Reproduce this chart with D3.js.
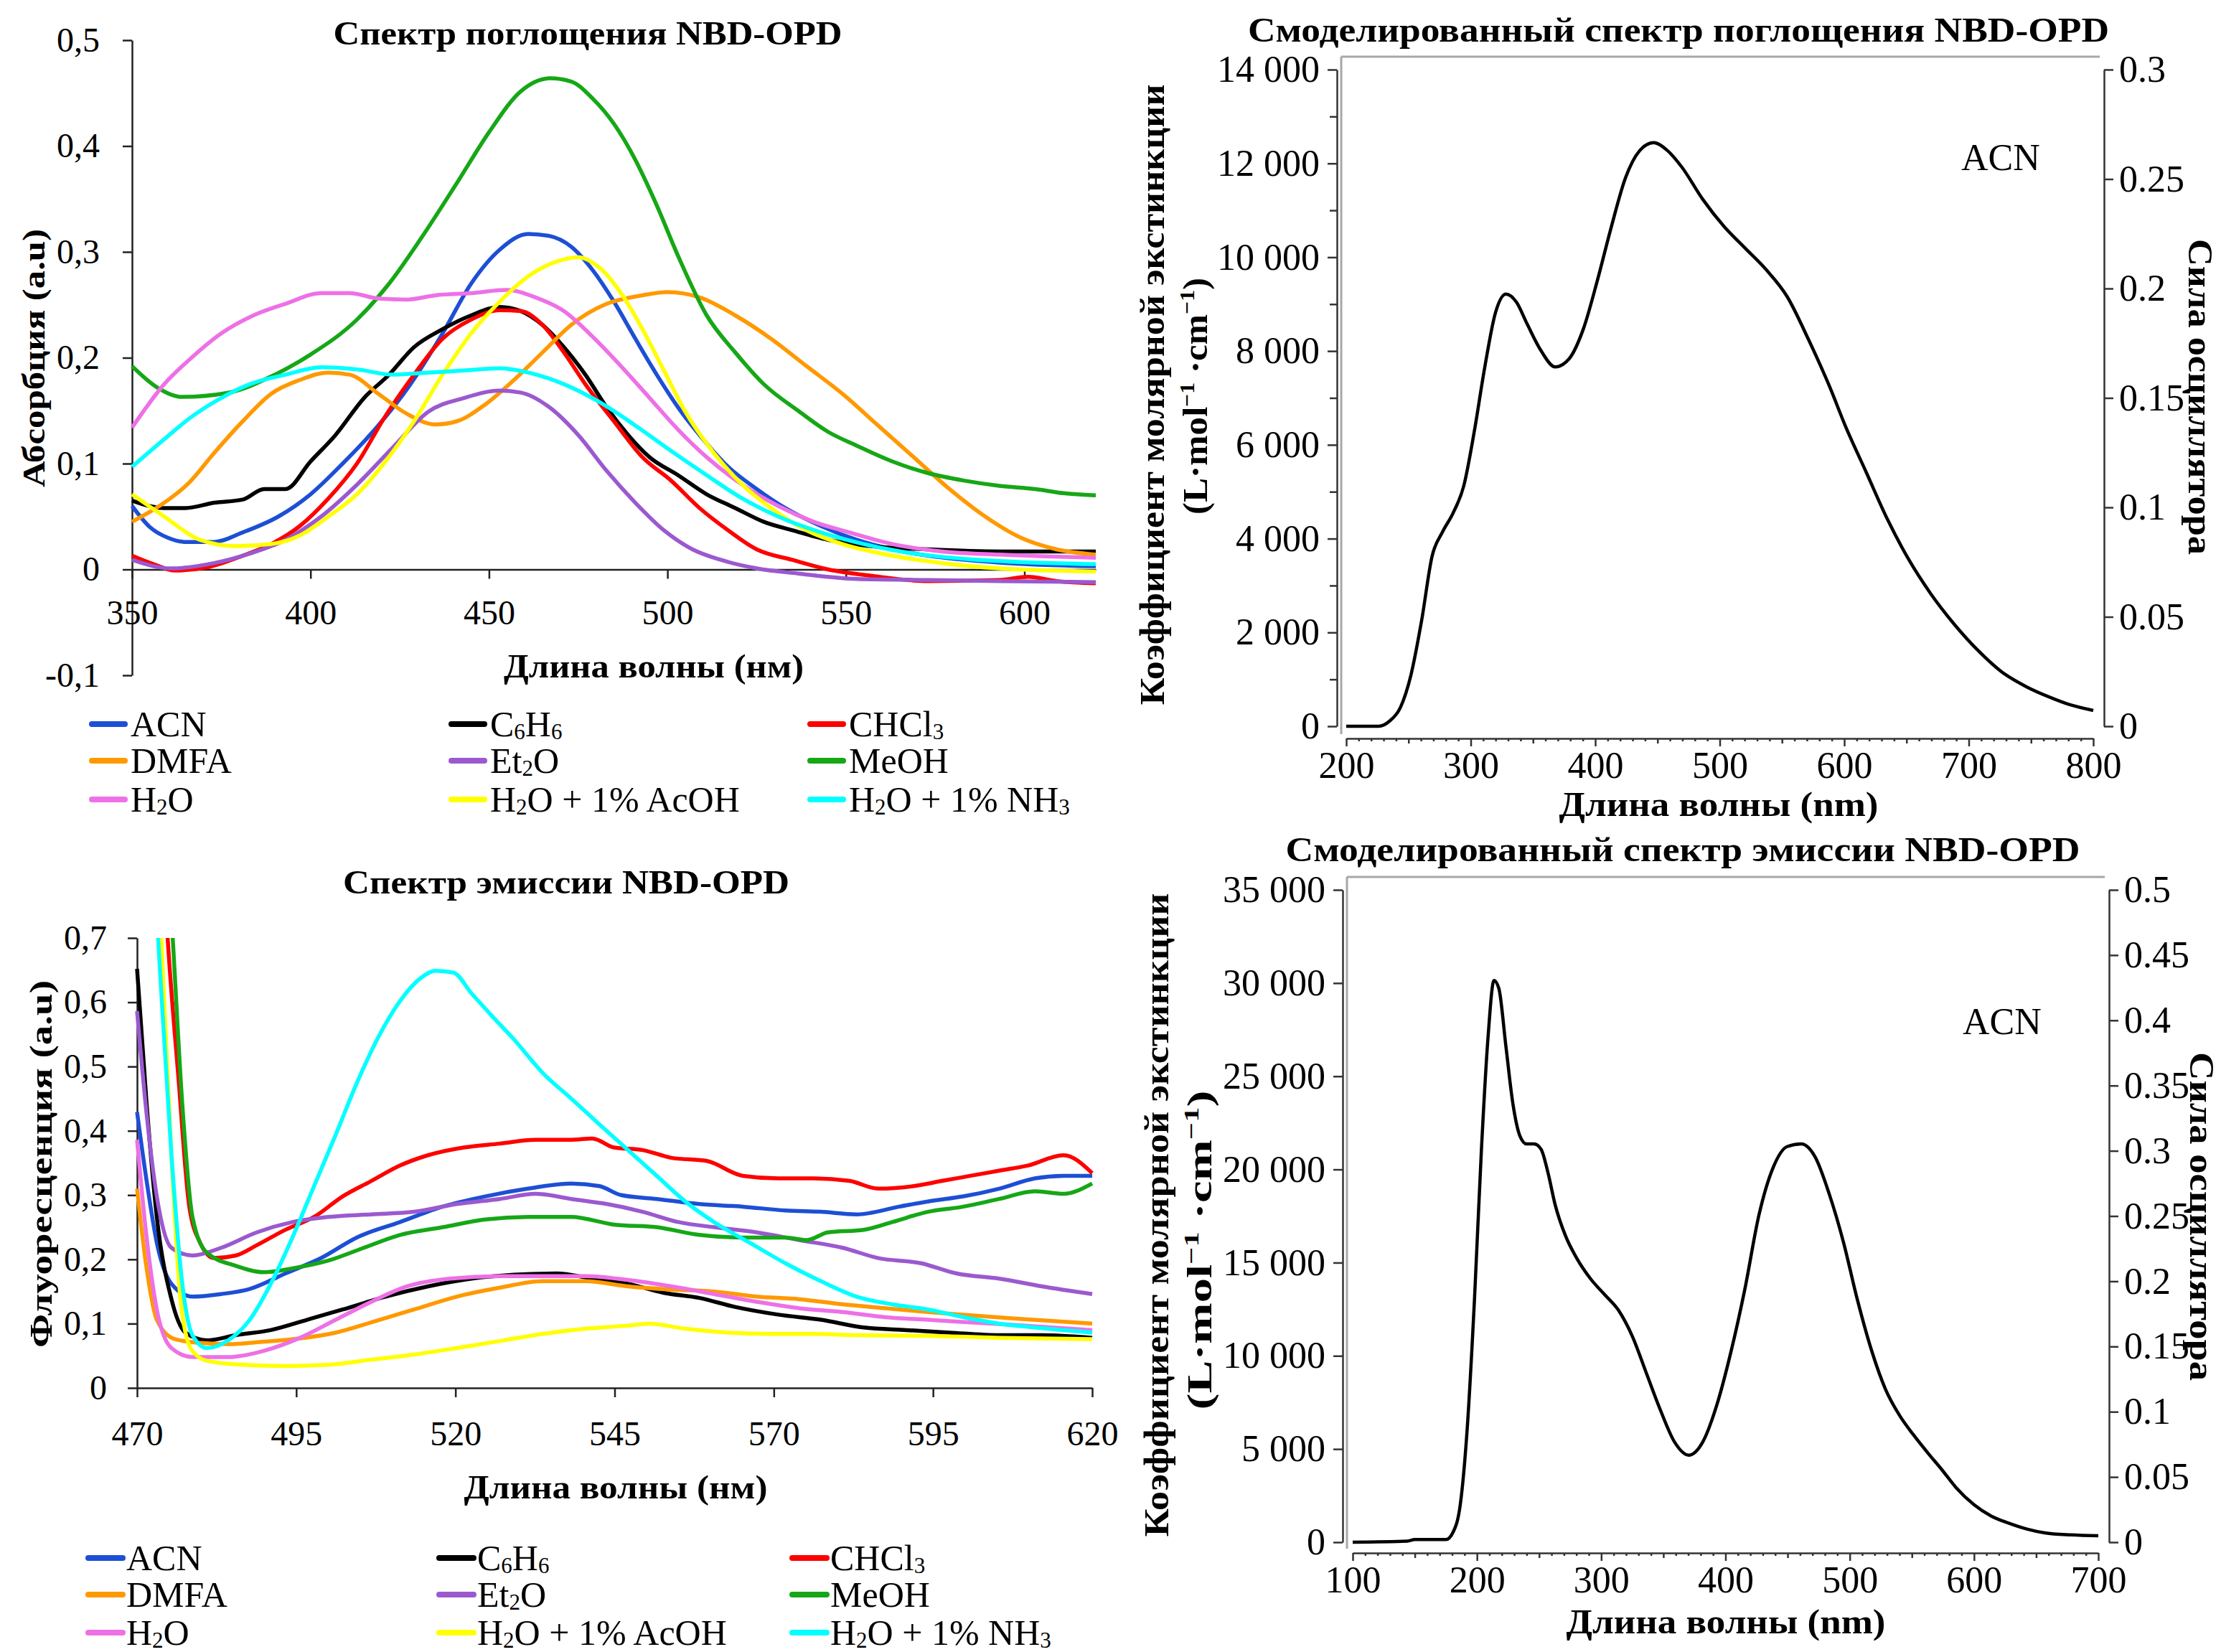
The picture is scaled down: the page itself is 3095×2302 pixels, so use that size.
<!DOCTYPE html>
<html>
<head>
<meta charset="utf-8">
<script src="https://cdn.jsdelivr.net/npm/d3@7"></script>
<style>
  html, body { margin: 0; padding: 0; background: #fff; }
</style>
</head>
<body>
<div id="chart"></div>
<script>
// ---- data: absorption spectra (wavelength nm, absorbance a.u.)
var absACN   = [[350,0.06],[355,0.04],[360,0.03],[365,0.026],[373,0.026],[381,0.035],[391,0.05],[400,0.071],[409,0.10],[419,0.136],[428,0.175],[437,0.223],[445,0.27],[453,0.302],[461,0.317],[467,0.315],[473,0.305],[479,0.283],[485,0.253],[491,0.218],[497,0.184],[503,0.153],[509,0.127],[517,0.097],[525,0.076],[533,0.058],[543,0.041],[553,0.028],[563,0.019],[573,0.013],[593,0.0065],[620,0.003]];
var absC6H6  = [[350,0.065],[359,0.058],[365,0.058],[373,0.063],[381,0.066],[387,0.076],[393,0.076],[400,0.102],[407,0.127],[415,0.162],[422,0.184],[429,0.21],[437,0.227],[445,0.24],[453,0.248],[459,0.244],[465,0.231],[471,0.21],[477,0.184],[483,0.153],[489,0.127],[495,0.106],[503,0.089],[511,0.071],[519,0.058],[527,0.045],[535,0.037],[545,0.028],[557,0.022],[573,0.019],[593,0.017],[620,0.017]];
var absCHCl3 = [[350,0.013],[356,0.005],[362,-0.001],[371,0.002],[381,0.013],[389,0.024],[397,0.041],[405,0.067],[413,0.10],[421,0.145],[429,0.184],[437,0.218],[445,0.236],[453,0.245],[459,0.244],[465,0.231],[471,0.205],[477,0.175],[485,0.14],[493,0.106],[501,0.084],[509,0.058],[517,0.037],[525,0.019],[535,0.009],[545,0],[557,-0.006],[573,-0.011],[593,-0.010],[601,-0.007],[609,-0.011],[620,-0.013]];
var absDMFA  = [[350,0.045],[359,0.063],[366,0.082],[373,0.11],[381,0.14],[389,0.166],[397,0.179],[405,0.186],[411,0.184],[419,0.166],[427,0.147],[435,0.137],[441,0.14],[449,0.156],[457,0.179],[465,0.205],[473,0.231],[483,0.251],[493,0.259],[500,0.262],[509,0.257],[519,0.24],[529,0.218],[539,0.192],[549,0.166],[559,0.136],[569,0.106],[579,0.076],[589,0.05],[599,0.03],[609,0.019],[620,0.014]];
var absEt2O  = [[350,0.009],[361,0.001],[373,0.006],[383,0.015],[393,0.028],[403,0.05],[413,0.08],[423,0.115],[433,0.149],[443,0.162],[453,0.169],[459,0.167],[467,0.153],[475,0.127],[483,0.093],[491,0.063],[499,0.037],[507,0.019],[515,0.009],[525,0.001],[537,-0.004],[553,-0.009],[573,-0.010],[593,-0.011],[620,-0.012]];
var absMeOH  = [[350,0.192],[357,0.172],[364,0.163],[377,0.167],[390,0.184],[400,0.203],[413,0.236],[422,0.27],[431,0.313],[441,0.365],[450,0.413],[459,0.452],[467,0.464],[473,0.461],[479,0.445],[485,0.421],[491,0.387],[497,0.344],[503,0.296],[511,0.24],[519,0.205],[527,0.175],[537,0.149],[545,0.13],[553,0.117],[563,0.102],[573,0.091],[583,0.084],[593,0.079],[603,0.076],[611,0.072],[620,0.070]];
var absH2O   = [[350,0.134],[359,0.175],[367,0.201],[375,0.223],[384,0.24],[393,0.251],[403,0.261],[411,0.261],[419,0.256],[427,0.255],[435,0.259],[445,0.261],[455,0.264],[463,0.257],[471,0.244],[479,0.22],[487,0.192],[495,0.162],[503,0.132],[511,0.106],[521,0.08],[531,0.06],[541,0.045],[551,0.035],[563,0.024],[577,0.017],[593,0.014],[620,0.011]];
var absAcOH  = [[350,0.071],[359,0.05],[369,0.028],[379,0.022],[389,0.024],[397,0.032],[405,0.05],[413,0.071],[421,0.102],[429,0.14],[437,0.184],[445,0.223],[453,0.253],[461,0.277],[469,0.291],[475,0.295],[481,0.285],[487,0.261],[493,0.227],[499,0.188],[505,0.149],[513,0.11],[521,0.08],[529,0.058],[539,0.037],[549,0.024],[563,0.013],[577,0.006],[593,0.001],[620,-0.002]];
var absNH3   = [[350,0.097],[359,0.123],[367,0.145],[375,0.162],[383,0.175],[393,0.184],[403,0.191],[413,0.189],[423,0.184],[433,0.186],[443,0.188],[453,0.19],[461,0.186],[471,0.175],[481,0.158],[491,0.136],[501,0.112],[511,0.089],[521,0.067],[531,0.05],[543,0.035],[555,0.024],[569,0.015],[585,0.0095],[603,0.0065],[620,0.005]];

// ---- data: emission spectra (wavelength nm, fluorescence a.u.)
var emACN   = [[470,0.429],[471.5,0.322],[473.1,0.226],[475.4,0.162],[478.7,0.142],[483.2,0.146],[487.7,0.154],[493.3,0.178],[498.9,0.202],[504.5,0.234],[511.3,0.258],[518,0.282],[524.7,0.298],[531.4,0.31],[538.2,0.318],[542.6,0.314],[546,0.3],[551.6,0.294],[558.3,0.286],[565.1,0.282],[571.8,0.276],[577.4,0.274],[583,0.27],[589.7,0.282],[594.2,0.29],[599.8,0.298],[605.4,0.31],[611,0.326],[615.5,0.33],[620,0.33]];
var emC6H6  = [[470,0.652],[471.5,0.442],[473.1,0.266],[475.4,0.138],[477.6,0.086],[481,0.074],[485.5,0.082],[491,0.09],[496.7,0.106],[502.3,0.122],[509,0.142],[515.7,0.158],[522.5,0.17],[529.2,0.176],[535.9,0.178],[541.5,0.17],[547.1,0.162],[552.7,0.148],[558.3,0.14],[563.9,0.126],[570.7,0.114],[577.4,0.106],[584.1,0.094],[590.8,0.09],[597.6,0.086],[605.4,0.082],[612.1,0.082],[620,0.078]];
var emCHCl3 = [[474.2,0.8],[474.8,0.7],[476.5,0.482],[478.2,0.282],[479.9,0.226],[482.1,0.202],[485.5,0.206],[488.8,0.222],[493.3,0.246],[497.8,0.266],[502.3,0.298],[506.8,0.322],[511.3,0.346],[515.7,0.362],[521.3,0.374],[526.9,0.38],[532.6,0.386],[538.2,0.386],[541.5,0.388],[544.9,0.374],[549.4,0.37],[553.9,0.358],[559.5,0.353],[565.1,0.33],[570.7,0.326],[576.3,0.326],[581.9,0.322],[586.4,0.31],[592,0.314],[596.4,0.322],[600.9,0.33],[605.4,0.338],[609.9,0.346],[615.5,0.362],[620,0.334]];
var emDMFA  = [[470,0.31],[471.5,0.186],[473.1,0.106],[475.9,0.076],[479.9,0.07],[484.3,0.068],[490,0.072],[495.6,0.077],[501.2,0.086],[506.8,0.102],[513.5,0.122],[520.2,0.142],[527,0.156],[533.7,0.166],[540.4,0.166],[547.1,0.158],[553.9,0.153],[560.6,0.15],[567.3,0.142],[574,0.138],[580.8,0.13],[587.5,0.124],[594.2,0.118],[600.9,0.113],[607.7,0.108],[620,0.1]];
var emEt2O  = [[470,0.586],[471.5,0.426],[473.1,0.298],[475.4,0.218],[478.7,0.206],[483.2,0.218],[488.8,0.242],[494.4,0.258],[500,0.266],[506.8,0.27],[513.5,0.274],[520.2,0.286],[527,0.294],[532.6,0.302],[538.2,0.294],[543.8,0.286],[549.4,0.274],[555,0.258],[560.6,0.25],[567.3,0.242],[574,0.23],[580.8,0.218],[586.4,0.202],[593.1,0.194],[598.7,0.178],[605.4,0.17],[612.1,0.158],[620,0.146]];
var emMeOH  = [[475,0.8],[475.6,0.7],[477.1,0.442],[478.7,0.266],[481,0.21],[485.5,0.19],[490,0.18],[494.4,0.186],[500,0.198],[505.6,0.218],[511.3,0.238],[518,0.25],[524.7,0.262],[531.4,0.266],[538.2,0.266],[544.9,0.254],[551.6,0.25],[558.3,0.238],[565.1,0.234],[571.8,0.234],[575.2,0.23],[578.5,0.242],[584.1,0.246],[588.6,0.258],[594.2,0.274],[599.8,0.282],[605.4,0.294],[611,0.306],[615.5,0.302],[620,0.318]];
var emH2O   = [[470,0.386],[471.5,0.234],[473.1,0.122],[475.4,0.062],[478.7,0.048],[484.3,0.048],[490,0.058],[495.6,0.078],[501.2,0.106],[506.8,0.134],[512.4,0.158],[519.1,0.17],[527,0.174],[533.7,0.174],[540.4,0.174],[547.1,0.168],[553.9,0.158],[560.6,0.146],[567.3,0.134],[574,0.124],[580.8,0.118],[587.5,0.11],[594.2,0.106],[600.9,0.102],[607.7,0.098],[620,0.09]];
var emAcOH  = [[473.2,0.8],[473.8,0.7],[475.4,0.36],[476.8,0.14],[478.5,0.06],[481,0.042],[486.6,0.036],[493.3,0.034],[500,0.036],[506.8,0.044],[513.5,0.052],[520.2,0.062],[527,0.073],[533.7,0.084],[540.4,0.092],[547.1,0.097],[550.5,0.1],[556.1,0.092],[562.8,0.086],[569.5,0.084],[576.3,0.084],[583,0.082],[594.2,0.081],[605.4,0.078],[620,0.076]];
var emNH3   = [[472.7,0.8],[473.3,0.7],[475.4,0.362],[477.1,0.162],[478.7,0.082],[481,0.062],[484.3,0.074],[487.7,0.106],[491,0.162],[494.4,0.234],[497.8,0.314],[501.2,0.394],[504.5,0.474],[507.9,0.546],[511.3,0.602],[514.6,0.638],[516.9,0.649],[519.7,0.646],[522.5,0.614],[525.8,0.578],[529.2,0.542],[533.7,0.49],[538.2,0.45],[542.6,0.41],[547.1,0.37],[551.6,0.33],[556.1,0.29],[560.6,0.258],[566.2,0.226],[571.8,0.194],[577.4,0.166],[583,0.142],[588.6,0.13],[594.2,0.122],[599.8,0.11],[605.4,0.1],[611,0.094],[620,0.086]];

// ---- data: simulated spectra (wavelength nm, molar extinction)
var simAbs = [[200,0],[226,0],[235,115],[243.5,400],[252,1095],[260.5,2246],[269,3630],[277.4,4147],[285.9,4550],[294.4,5126],[302.8,6278],[311.3,7660],[319.8,8813],[328.2,9216],[336.7,9043],[345.2,8582],[356.5,8006],[367.8,7660],[379,7834],[390.4,8467],[401.7,9504],[413,10656],[424.3,11693],[435.6,12269],[446.9,12442],[458.2,12269],[469.5,11923],[486.4,11232],[503.4,10656],[520.3,10195],[537.3,9734],[554.2,9158],[571.2,8250],[588.1,7250],[601.7,6350],[617.3,5436],[634.6,4417],[651.9,3550],[669.2,2835],[688.4,2173],[707.6,1611],[726.8,1152],[746,846],[765.2,617],[780.6,464],[800,337]];
var simEm  = [[100,0],[144,57],[150,140],[175,140],[181,566],[186.5,1981],[192,5943],[198,13018],[203.5,20942],[209,27168],[213.7,30140],[217.6,29715],[223.3,26602],[229,23489],[234.6,21791],[240,21366],[245.9,21366],[251.6,21083],[257.2,19810],[262.9,18112],[271.4,16414],[279.9,15282],[291.2,14150],[302.5,13301],[313.8,12452],[325.1,11037],[336.4,9056],[347.7,7075],[359,5377],[370.4,4670],[381.7,5377],[393,7358],[404.3,10188],[415.6,13584],[426.9,17546],[438.3,20093],[449.6,21225],[460.9,21366],[472.2,20659],[483.5,18678],[494.8,16131],[506.1,13018],[517.5,10300],[528.8,8200],[540.1,6800],[551.4,5750],[562.7,4800],[574,3900],[585.3,2950],[600,2014],[614,1400],[629,1000],[643,700],[657,500],[678,390],[700,347]];

// ---- series names / colours (legend order = drawing order)
var seriesNames  = ["ACN", "C_6H_6", "CHCl_3", "DMFA", "Et_2O", "MeOH", "H_2O", "H_2O + 1% AcOH", "H_2O + 1% NH_3"];
var seriesColors = ["#1d4fd5", "#000000", "#ff0000", "#ff9900", "#9b59cf", "#16a716", "#ee70e6", "#ffff00", "#00ffff"];
var absSeries = [absACN, absC6H6, absCHCl3, absDMFA, absEt2O, absMeOH, absH2O, absAcOH, absNH3];
var emSeries  = [emACN, emC6H6, emCHCl3, emDMFA, emEt2O, emMeOH, emH2O, emAcOH, emNH3];

// ---- tick values
var absYTicks = [-0.1, 0, 0.1, 0.2, 0.3, 0.4, 0.5];
var absXTicks = [350, 400, 450, 500, 550, 600];
var emYTicks  = [0, 0.1, 0.2, 0.3, 0.4, 0.5, 0.6, 0.7];
var emXTicks  = [470, 495, 520, 545, 570, 595, 620];
var simAbsYTicks = d3.range(0, 14001, 2000);
var simAbsYMinor = d3.range(1000, 14000, 2000);
var simAbsRTicks = [0, 0.05, 0.1, 0.15, 0.2, 0.25, 0.3];
var simAbsXTicks = d3.range(200, 801, 100);
var simEmYTicks  = d3.range(0, 35001, 5000);
var simEmRTicks  = [0, 0.05, 0.1, 0.15, 0.2, 0.25, 0.3, 0.35, 0.4, 0.45, 0.5];
var simEmXTicks  = d3.range(100, 701, 100);

var FONT = "'Liberation Serif','Times New Roman',serif";
var W = 3095, H = 2302;

var svg = d3.select("#chart").append("svg")
  .attr("width", W).attr("height", H)
  .attr("viewBox", "0 0 " + W + " " + H);
svg.append("rect").attr("width", W).attr("height", H).attr("fill", "#fff");

var fmtComma = d3.formatLocale({decimal: ",", thousands: " ", grouping: [3], currency: ["", ""], minus: "-"}).format("~g");
var fmtSpace = d3.formatLocale({decimal: ".", thousands: " ", grouping: [3], currency: ["", ""]}).format(",");
var fmtDot = d3.format("~g");

// text with _x subscripts and ^−1 superscripts (shifts given in px)
function rich(t, str, size) {
  var parts = str.split(/(_\d|\^−1)/).filter(function(p) { return p; });
  var shift = 0;
  parts.forEach(function(p) {
    if (p[0] === "_") {
      var d = size * 0.08;
      t.append("tspan").attr("font-size", size * 0.62).attr("dy", d - shift).text(p.slice(1));
      shift = d;
    } else if (p[0] === "^") {
      var u = -size * 0.38;
      t.append("tspan").attr("font-size", size * 0.62).attr("dy", u - shift).text(p.slice(1));
      shift = u;
    } else {
      var s = t.append("tspan").text(p);
      if (shift) s.attr("dy", -shift);
      shift = 0;
    }
  });
}

function label(g, o) {
  var t = g.append("text")
    .attr("font-family", FONT)
    .attr("font-size", o.size)
    .attr("font-weight", o.bold ? "bold" : "normal")
    .attr("text-anchor", o.anchor || "middle")
    .attr("fill", "#000")
    .attr("transform", "translate(" + o.x + "," + o.y + ") rotate(" + (o.rot || 0) + ")");
  rich(t, o.text, o.size);
  if (o.len) t.attr("textLength", o.len).attr("lengthAdjust", "spacingAndGlyphs");
  return t;
}

function styleAxis(g, size, color) {
  g.select(".domain").attr("stroke", color).attr("stroke-width", 2.5);
  g.selectAll(".tick line").attr("stroke", color).attr("stroke-width", 2.5);
  g.selectAll(".tick text").attr("font-family", FONT).attr("font-size", size).attr("fill", "#000");
}

// tick marks only: drop the empty label nodes
function bareTicks(g, color) {
  g.selectAll(".tick text").remove();
  g.select(".domain").remove();
  g.selectAll(".tick line").attr("stroke", color).attr("stroke-width", 2.5);
}

function drawLegend(g, rows, cols, lineLen, textOff) {
  seriesNames.forEach(function(name, i) {
    var r = Math.floor(i / 3), c = i % 3;
    var x0 = cols[c], y0 = rows[r];
    g.append("line")
      .attr("x1", x0 + 4).attr("x2", x0 + lineLen - 4)
      .attr("y1", y0).attr("y2", y0)
      .attr("stroke", seriesColors[i]).attr("stroke-width", 8)
      .attr("stroke-linecap", "round");
    label(g, {x: x0 + textOff, y: y0 + 17, text: name, size: 50, anchor: "start"});
  });
}

// ================= Panel 1: absorption =================
var g1 = svg.append("g");
var x1 = d3.scaleLinear().domain([350, 620]).range([184, 1527]);
var y1 = d3.scaleLinear().domain([-0.1, 0.5]).range([941, 56]);

var line1 = d3.line().curve(d3.curveMonotoneX)
  .x(function(d) { return x1(d[0]); })
  .y(function(d) { return y1(d[1]); });

g1.append("g").attr("transform", "translate(184,0)")
  .call(d3.axisLeft(y1).tickValues(absYTicks).tickSize(13).tickSizeOuter(0).tickPadding(32).tickFormat(fmtComma))
  .call(styleAxis, 48, "#222");
g1.append("g").attr("transform", "translate(0," + y1(0) + ")")
  .call(d3.axisBottom(x1).tickValues(absXTicks).tickSize(13).tickSizeOuter(0).tickPadding(29).tickFormat(d3.format("d")))
  .call(styleAxis, 48, "#222");

absSeries.forEach(function(s, i) {
  g1.append("path").datum(s)
    .attr("fill", "none").attr("stroke", seriesColors[i])
    .attr("stroke-width", 5.5).attr("stroke-linejoin", "round")
    .attr("d", line1);
});

label(g1, {x: 819, y: 62, text: "Спектр поглощения NBD-OPD", size: 46, bold: true, len: 709});
label(g1, {x: 62, y: 499, rot: -90, text: "Абсорбция (а.u)", size: 44, bold: true, len: 360});
label(g1, {x: 911, y: 944, text: "Длина волны (нм)", size: 46, bold: true, len: 418});
drawLegend(g1, [1009, 1060, 1114], [124, 625, 1125], 54, 58);

// ================= Panel 3: emission =================
var g3 = svg.append("g");
var x3 = d3.scaleLinear().domain([470, 620]).range([191, 1522]);
var y3 = d3.scaleLinear().domain([0, 0.7]).range([1934, 1307]);

svg.append("clipPath").attr("id", "clip3")
  .append("rect").attr("x", 180).attr("y", 1307).attr("width", 1360).attr("height", 640);

var line3 = d3.line().curve(d3.curveMonotoneX)
  .x(function(d) { return x3(d[0]); })
  .y(function(d) { return y3(d[1]); });

g3.append("g").attr("transform", "translate(191,0)")
  .call(d3.axisLeft(y3).tickValues(emYTicks).tickSize(13).tickSizeOuter(0).tickPadding(29).tickFormat(fmtComma))
  .call(styleAxis, 48, "#222");
g3.append("g").attr("transform", "translate(0,1934)")
  .call(d3.axisBottom(x3).tickValues(emXTicks).tickSize(13).tickSizeOuter(0).tickPadding(33).tickFormat(d3.format("d")))
  .call(styleAxis, 48, "#222");

var lines3 = g3.append("g").attr("clip-path", "url(#clip3)");
emSeries.forEach(function(s, i) {
  lines3.append("path").datum(s)
    .attr("fill", "none").attr("stroke", seriesColors[i])
    .attr("stroke-width", 5.5).attr("stroke-linejoin", "round")
    .attr("d", line3);
});

label(g3, {x: 789, y: 1245, text: "Спектр эмиссии NBD-OPD", size: 46, bold: true, len: 622});
label(g3, {x: 72, y: 1622, rot: -90, text: "Флуоресценция (а.u)", size: 44, bold: true, len: 512});
label(g3, {x: 858, y: 2088, text: "Длина волны (нм)", size: 46, bold: true, len: 423});
drawLegend(g3, [2171, 2222, 2275], [119, 608, 1100], 56, 57);

// ================= simulated panels =================
function simPanel(o) {
  var g = svg.append("g");
  var x = d3.scaleLinear().domain(o.xDomain).range(o.xRange);
  var yL = d3.scaleLinear().domain([0, o.yMax]).range(o.yRange);
  var yR = d3.scaleLinear().domain([0, o.rMax]).range(o.yRange);

  // light grey frame (left + top)
  g.append("line").attr("x1", o.frameX).attr("x2", o.frameX).attr("y1", o.frameTop).attr("y2", o.xAxisY - 6)
    .attr("stroke", "#a8a8a8").attr("stroke-width", 3);
  g.append("line").attr("x1", o.frameX).attr("x2", o.rightX - 6).attr("y1", o.frameTop).attr("y2", o.frameTop)
    .attr("stroke", "#a8a8a8").attr("stroke-width", 3);

  g.append("g").attr("transform", "translate(" + o.leftX + ",0)")
    .call(d3.axisLeft(yL).tickValues(o.yTicks).tickSize(13).tickSizeOuter(0).tickPadding(11).tickFormat(fmtSpace))
    .call(styleAxis, 52, "#333");
  if (o.yMinor) {
    g.append("g").attr("transform", "translate(" + o.leftX + ",0)")
      .call(d3.axisLeft(yL).tickValues(o.yMinor).tickSize(10).tickSizeOuter(0))
      .call(bareTicks, "#333");
  }
  g.append("g").attr("transform", "translate(" + o.rightX + ",0)")
    .call(d3.axisRight(yR).tickValues(o.rTicks).tickSize(13).tickSizeOuter(0).tickPadding(8).tickFormat(fmtDot))
    .call(styleAxis, 52, "#333");

  var xMinor = d3.range(o.xDomain[0], o.xDomain[1] + 1, 10).filter(function(v) { return v % 50 !== 0; });
  var xMid = d3.range(o.xDomain[0] + 50, o.xDomain[1], 100);
  var xg = g.append("g").attr("transform", "translate(0," + o.xAxisY + ")");
  xg.append("g").call(d3.axisBottom(x).tickValues(o.xTicks).tickSize(11).tickSizeOuter(0).tickPadding(7).tickFormat(d3.format("d")))
    .call(styleAxis, 52, "#333");
  xg.append("g").call(d3.axisBottom(x).tickValues(xMid).tickSize(7))
    .call(bareTicks, "#333");
  xg.append("g").call(d3.axisBottom(x).tickValues(xMinor).tickSize(4))
    .call(bareTicks, "#333");

  var ln = d3.line().curve(d3.curveMonotoneX)
    .x(function(d) { return x(d[0]); })
    .y(function(d) { return yL(d[1]); });
  g.append("path").datum(o.data)
    .attr("fill", "none").attr("stroke", "#000").attr("stroke-width", 4.5)
    .attr("stroke-linejoin", "round").attr("d", ln);

  label(g, {x: o.title.x, y: o.title.y, text: o.title.text, size: 48, bold: true, len: o.title.len});
  label(g, {x: o.lab1.x, y: o.lab1.y, rot: -90, text: "Коэффициент молярной экстинкции", size: 48, bold: true, len: o.lab1.len});
  label(g, {x: o.lab2.x, y: o.lab2.y, rot: -90, text: "(L·mol^−1 ·cm^−1)", size: 48, bold: true, len: o.lab2.len});
  label(g, {x: o.labR.x, y: o.labR.y, rot: 90, text: "Сила осциллятора", size: 48, bold: true, len: o.labR.len});
  label(g, {x: o.labX.x, y: o.labX.y, text: "Длина волны (nm)", size: 48, bold: true, len: o.labX.len});
  label(g, {x: o.acn.x, y: o.acn.y, text: "ACN", size: 52, anchor: "start"});
}

simPanel({
  data: simAbs, xDomain: [200, 800], xRange: [1876, 2917],
  yMax: 14000, rMax: 0.3, yRange: [1012, 97],
  yTicks: simAbsYTicks, yMinor: simAbsYMinor, rTicks: simAbsRTicks, xTicks: simAbsXTicks,
  leftX: 1863, rightX: 2932, frameX: 1869, frameTop: 79, xAxisY: 1029,
  title: {x: 2339, y: 58, text: "Смоделированный спектр поглощения NBD-OPD", len: 1200},
  lab1: {x: 1622, y: 550, len: 865},
  lab2: {x: 1682, y: 552, len: 330},
  labR: {x: 3050, y: 553, len: 440},
  labX: {x: 2395, y: 1137, len: 445},
  acn: {x: 2733, y: 237}
});

simPanel({
  data: simEm, xDomain: [100, 700], xRange: [1885, 2924],
  yMax: 35000, rMax: 0.5, yRange: [2149, 1240],
  yTicks: simEmYTicks, yMinor: null, rTicks: simEmRTicks, xTicks: simEmXTicks,
  leftX: 1871, rightX: 2939, frameX: 1877, frameTop: 1222, xAxisY: 2164,
  title: {x: 2345, y: 1200, text: "Смоделированный спектр эмиссии NBD-OPD", len: 1107},
  lab1: {x: 1628, y: 1693, len: 897},
  lab2: {x: 1688, y: 1742, len: 445},
  labR: {x: 3052, y: 1695, len: 458},
  labX: {x: 2405, y: 2276, len: 445},
  acn: {x: 2735, y: 1441}
});
</script>
</body>
</html>
